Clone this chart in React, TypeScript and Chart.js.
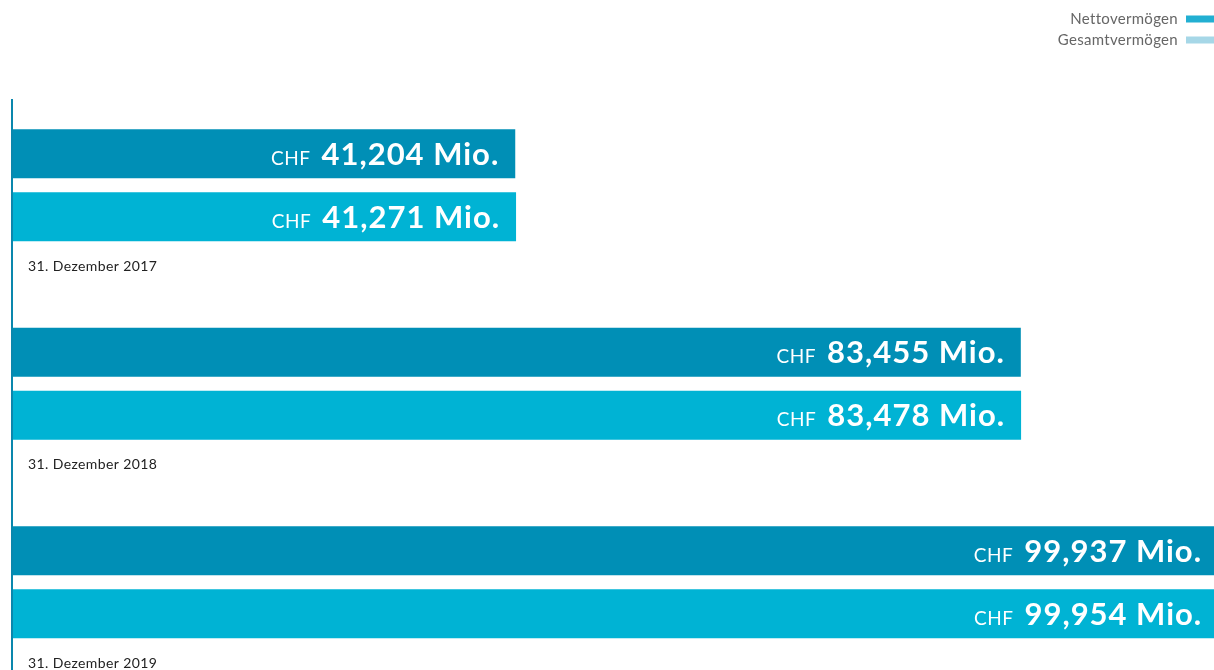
import React, { useEffect, useRef } from "react";
import { Chart, registerables } from "chart.js";

Chart.register(...registerables);

const categories = ["31. Dezember 2017", "31. Dezember 2018", "31. Dezember 2019"];
const nettoValues = [41204, 83455, 99937];
const gesamtValues = [41271, 83478, 99954];
const seriesNames = ["Nettovermögen", "Gesamtvermögen"];
const valueLabels = [
  ["41,204", "83,455", "99,937"],
  ["41,271", "83,478", "99,954"],
];

const barColors = ["#008fb6", "#00b3d4"];
const legendColors = ["#22afd2", "#a6d7e7"];
const AXIS_MIN = -770;
const AXIS_MAX = 99600;

const overlayPlugin = {
  id: "overlay",
  beforeDatasetsDraw(chart: any) {
    const ctx = chart.ctx;
    ctx.save();
    ctx.fillStyle = "#0a87ad";
    ctx.fillRect(11, 99, 2, chart.height - 99);
    ctx.restore();
  },
  afterDatasetsDraw(chart: any) {
    const ctx = chart.ctx;
    ctx.save();
    // value labels
    chart.data.datasets.forEach((ds: any, di: number) => {
      const meta = chart.getDatasetMeta(di);
      meta.data.forEach((bar: any, i: number) => {
        const right = bar.x - 17;
        const baseY = bar.y + 11;
        ctx.fillStyle = "#ffffff";
        ctx.textAlign = "right";
        ctx.textBaseline = "alphabetic";
        ctx.font = "700 31px Lato";
        (ctx as any).letterSpacing = "1px";
        const num = valueLabels[di][i] + " Mio.";
        ctx.fillText(num, right + 1, baseY);
        const w = ctx.measureText(num).width;
        (ctx as any).letterSpacing = "0.5px";
        ctx.font = "400 19px Lato";
        ctx.fillText("CHF", right - w - 10, baseY);
      });
    });
    // category labels
    (ctx as any).letterSpacing = "0.4px";
    const yScale = chart.scales.y;
    ctx.fillStyle = "#222222";
    ctx.textAlign = "left";
    ctx.textBaseline = "middle";
    ctx.font = "400 14px Lato";
    categories.forEach((c, i) => {
      const cy = yScale.getPixelForValue(i);
      ctx.fillText(c, 28, cy + 81);
    });
    // legend
    (ctx as any).letterSpacing = "0.3px";
    ctx.font = "400 15px Lato";
    ctx.textAlign = "right";
    seriesNames.forEach((n, i) => {
      const y = 19 + i * 21;
      ctx.fillStyle = "#666666";
      ctx.fillText(n, 1178, y);
      ctx.fillStyle = legendColors[i];
      ctx.fillRect(1186, y - 3.5, 28, 7);
    });
    ctx.restore();
  },
};

export default function App() {
  const ref = useRef<HTMLCanvasElement | null>(null);
  useEffect(() => {
    if (!ref.current) return;
    const chart = new Chart(ref.current, {
      type: "bar",
      data: {
        labels: categories,
        datasets: [
          {
            label: seriesNames[0],
            data: nettoValues,
            backgroundColor: barColors[0],
            base: AXIS_MIN,
            categoryPercentage: 0.635,
            barPercentage: 0.778,
          } as any,
          {
            label: seriesNames[1],
            data: gesamtValues,
            backgroundColor: barColors[1],
            base: AXIS_MIN,
            categoryPercentage: 0.635,
            barPercentage: 0.778,
          } as any,
        ],
      },
      options: {
        indexAxis: "y",
        responsive: false,
        animation: false,
        devicePixelRatio: 1,
        layout: { padding: { top: 86, left: 13, right: 0, bottom: 8.5 } },
        scales: {
          x: { display: false, min: AXIS_MIN, max: AXIS_MAX },
          y: { display: false },
        },
        plugins: {
          legend: { display: false },
          tooltip: { enabled: false },
        },
      },
      plugins: [overlayPlugin],
    });
    return () => chart.destroy();
  }, []);
  return (
    <div
      style={{
        position: "fixed",
        left: 0,
        top: 0,
        width: 1214,
        height: 670,
        overflow: "hidden",
        background: "#ffffff",
      }}
    >
      <canvas ref={ref} width={1214} height={690} style={{ display: "block" }} />
    </div>
  );
}
